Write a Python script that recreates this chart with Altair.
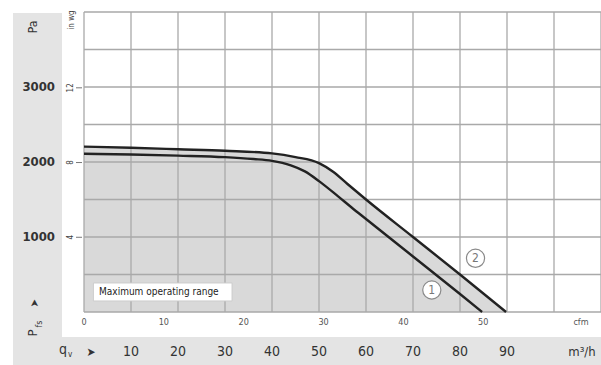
import altair as alt
import pandas as pd

# ---- data ----
q_curve2 = [0, 10, 20, 30, 40, 45, 50, 53, 56, 60, 70, 80, 89.8]
p_curve2 = [2205, 2190, 2170, 2150, 2115, 2065, 1985, 1870, 1710, 1500, 1000, 500, 0]
q_curve1 = [0, 10, 20, 30, 36, 40, 44, 47, 50, 54, 57, 60, 70, 80, 84.7]
p_curve1 = [2110, 2100, 2085, 2065, 2040, 2015, 1955, 1875, 1745, 1545, 1390, 1240, 740, 240, 0]

pa_labels = [1000, 2000, 3000]
inwg_labels = [4, 8, 12]
m3h_labels = [10, 20, 30, 40, 50, 60, 70, 80, 90]
cfm_labels = [0, 10, 20, 30, 40, 50]
grid_q = [0, 10, 20, 30, 40, 50, 60, 70, 80, 90, 100, 110]
grid_p = [0, 500, 1000, 1500, 2000, 2500, 3000, 3500, 4000]

curve_ids = ["1", "2"]
curve_label_q = [74, 83.3]
curve_label_p = [293, 716]

box_text = "Maximum operating range"
box_q = [2.0, 31.5]
box_p = [147, 387]

PA_PER_INWG = 249.089
M3H_PER_CFM = 1.699

FONT = "Liberation Sans Narrow, DejaVu Sans Condensed, Arial Narrow, sans-serif"
W, H = 517, 300

xs = alt.Scale(domain=[0, 110], nice=False, zero=False)
ys = alt.Scale(domain=[0, 4000], nice=False, zero=False)

X = lambda f="q": alt.X(f + ":Q", scale=xs, axis=None)
Y = lambda f="p": alt.Y(f + ":Q", scale=ys, axis=None)

c2 = pd.DataFrame({"q": q_curve2, "p": p_curve2})
c1 = pd.DataFrame({"q": q_curve1, "p": p_curve1})

# background strips (decoration)
left_strip = alt.Chart(pd.DataFrame({"a": [0]})).mark_rect(color="#e4e4e4").encode(
    x=alt.value(-71), x2=alt.value(-22), y=alt.value(1), y2=alt.value(353))
bottom_strip = alt.Chart(pd.DataFrame({"a": [0]})).mark_rect(color="#e4e4e4").encode(
    x=alt.value(-71), x2=alt.value(W), y=alt.value(325), y2=alt.value(353))

area = alt.Chart(c2).mark_area(color="#d9d9d9", interpolate="monotone").encode(x=X(), y=Y())

vgrid = alt.Chart(pd.DataFrame({"q": grid_q})).mark_rule(color="#a9a9a9", strokeWidth=1.3).encode(x=X())
hgrid = alt.Chart(pd.DataFrame({"p": grid_p})).mark_rule(color="#a9a9a9", strokeWidth=1.3).encode(y=Y())

box = alt.Chart(pd.DataFrame({"q0": [box_q[0]], "q1": [box_q[1]], "p0": [box_p[0]], "p1": [box_p[1]]})).mark_rect(
    fill="white", stroke="#cccccc", strokeWidth=1).encode(
    x=X("q0"), x2="q1:Q", y=Y("p0"), y2="p1:Q")
box_label = alt.Chart(pd.DataFrame({"q": [box_q[0] + 1.2], "p": [(box_p[0] + box_p[1]) / 2], "t": [box_text]})).mark_text(
    align="left", baseline="middle", font=FONT, fontSize=10, color="#222").encode(
    x=X(), y=Y(), text="t:N")

line2 = alt.Chart(c2).mark_line(color="#222222", strokeWidth=2.4, interpolate="monotone").encode(x=X(), y=Y())
line1 = alt.Chart(c1).mark_line(color="#222222", strokeWidth=2.4, interpolate="monotone").encode(x=X(), y=Y())

lab_df = pd.DataFrame({"q": curve_label_q, "p": curve_label_p, "t": curve_ids})
circles = alt.Chart(lab_df).mark_point(shape="circle", size=330, filled=False, fill="white",
                                        stroke="#8a8a8a", strokeWidth=1.2, opacity=1).encode(x=X(), y=Y())
circle_txt = alt.Chart(lab_df).mark_text(font=FONT, fontSize=12, color="#777").encode(
    x=X(), y=Y(), text="t:N")

# main pressure scale (Pa)
pa_df = pd.DataFrame({"p": pa_labels, "t": [str(v) for v in pa_labels]})
pa_txt = alt.Chart(pa_df).mark_text(align="right", baseline="middle", font=FONT, fontSize=13,
                                    fontWeight="bold", color="#333").encode(
    x=alt.value(-29), y=Y(), text="t:N")

# main flow scale (m³/h)
m3_df = pd.DataFrame({"q": m3h_labels, "t": [str(v) for v in m3h_labels]})
m3_txt = alt.Chart(m3_df).mark_text(baseline="middle", font=FONT, fontSize=14, color="#333").encode(
    x=X(), y=alt.value(340), text="t:N")

# secondary pressure scale (in wg)
inwg_df = pd.DataFrame({"p": [v * PA_PER_INWG for v in inwg_labels], "t": [str(v) for v in inwg_labels]})
inwg_txt = alt.Chart(inwg_df).mark_text(angle=270, font=FONT, fontSize=8, color="#444").encode(
    x=alt.value(-13), y=Y(), text="t:N")
inwg_tick = alt.Chart(inwg_df).mark_rule(color="#777", strokeWidth=1).encode(
    x=alt.value(-8), x2=alt.value(-2), y=Y())

# secondary flow scale (cfm)
cfm_df = pd.DataFrame({"q": [v * M3H_PER_CFM for v in cfm_labels], "t": [str(v) for v in cfm_labels]})
cfm_txt = alt.Chart(cfm_df).mark_text(font=FONT, fontSize=9, color="#555").encode(
    x=X(), y=alt.value(310), text="t:N")

def label(t, x, y, size, angle=0, color="#333", align="center", weight="normal"):
    kw = dict(font=FONT, fontSize=size, color=color, align=align, baseline="middle", fontWeight=weight)
    if angle:
        kw["angle"] = angle
    return alt.Chart(pd.DataFrame({"t": [t]})).mark_text(**kw).encode(
        x=alt.value(x), y=alt.value(y), text="t:N")

titles = [
    label("Pa", -51, 15, 12, 270),
    label("in wg", -12, 8, 8, 270, "#444"),
    label("➤", -49, 291, 11, 270),
    label("P", -51, 321, 13, 270),
    label("fs", -45, 312, 9, 270),
    label("q", -21, 338, 14),
    label("v", -14, 343, 8),
    label("➤", 7, 340, 12),
    label("cfm", 497, 310, 9, 0, "#555"),
    label("m³/h", 498, 340, 13),
]

chart = alt.layer(
    left_strip, bottom_strip, area, vgrid, hgrid, box, box_label, line2, line1,
    circles, circle_txt, pa_txt, m3_txt, inwg_tick, inwg_txt, cfm_txt, *titles
).properties(
    width=W, height=H, padding={"left": 84, "top": 12, "right": 0, "bottom": 53},
    autosize=alt.AutoSizeParams(type="none"), background="white"
).configure_view(stroke=None)

chart.save("out.html", embed_options={"renderer": "svg", "actions": False})
